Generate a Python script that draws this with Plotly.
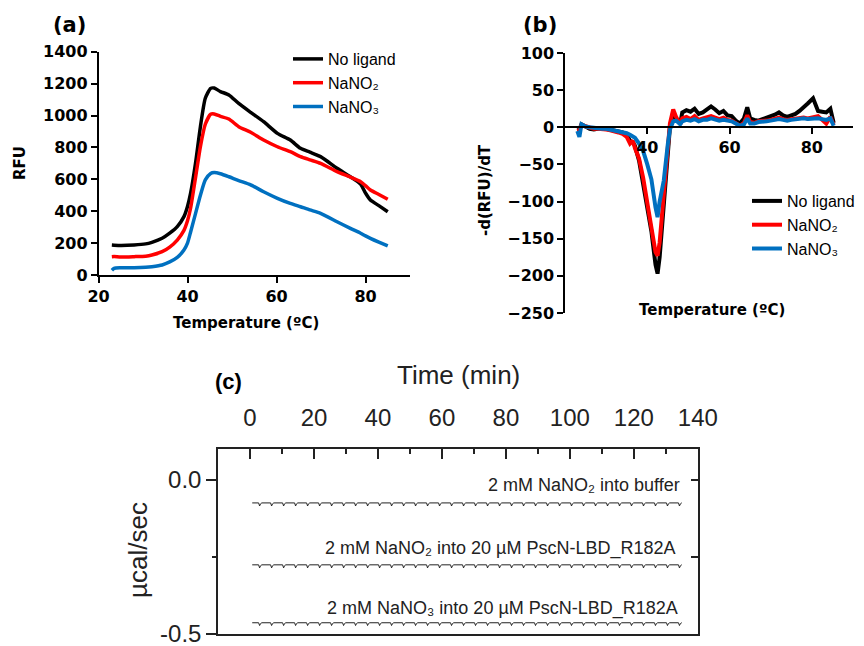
import plotly.graph_objects as go

# ---------------- Panel (a): melting curves ----------------
temp_a = [23, 23.5, 25, 28, 30.6, 32, 34.3, 36, 37.7, 39.2, 40, 40.7, 41.8, 42.9, 44, 45.2, 46,
          47.4, 49.3, 51.5, 54.2, 57.1, 60.2, 63.1, 65.4, 67.5, 69.9, 73.6, 76.6, 78.9, 80, 81.1, 83, 85]
rfu_none = [188, 187, 185, 188, 195, 205, 230, 262, 303, 366, 430, 513, 700, 930, 1108, 1170, 1172,
            1150, 1129, 1076, 1020, 961, 888, 846, 794, 770, 742, 669, 616, 570, 514, 470, 435, 397]
rfu_no2 = [115, 116, 113, 115, 118, 125, 146, 175, 219, 280, 340, 420, 610, 805, 945, 1008, 1010,
           995, 978, 930, 895, 846, 804, 773, 742, 722, 700, 648, 614, 585, 560, 533, 505, 475]
rfu_no3 = [30, 42, 45, 45, 48, 52, 63, 82, 110, 157, 200, 270, 385, 500, 596, 637, 642,
           635, 616, 592, 565, 522, 481, 449, 428, 408, 387, 334, 292, 262, 245, 230, 206, 182]

# ---------------- Panel (b): first derivative ----------------
temp_b = [23, 23.5, 24, 25, 26, 27, 28, 29, 30, 31, 32, 33, 34, 35, 35.8, 36.5, 37, 38, 39, 40, 41,
          42, 42.5, 43, 44, 45, 45.5, 46.3, 47, 48, 48.5, 49.5, 50.5, 51.5, 52.5, 53.5, 54.5, 55.5,
          56.5, 57.5, 58.5, 59.5, 60.5, 61.5, 62.5, 63.5, 64.3, 65, 66, 67, 68, 69, 70, 71, 72, 73,
          74, 75, 76, 77, 78, 79, 80.3, 81.5, 82.5, 83.5, 84.5, 85.3]
d_none = [-4, -3, 4, 1, -2, -3, -2, -1, -2, -3, -4, -5, -7, -10, -18, -20, -25, -45, -75, -105, -140,
          -185, -197, -175, -105, -30, 0, 20, 12, 5, 20, 23, 21, 25, 18, 20, 24, 28,
          24, 19, 22, 16, 15, 9, 5, 12, 27, 12, 10, 9, 11, 13, 14, 17, 20, 16,
          14, 16, 18, 22, 28, 32, 39, 22, 21, 20, 25, 6]
d_no2 = [-5, -4, 3, 1, -1, -2, -2, -2, -3, -4, -5, -7, -9, -13, -22, -18, -28, -42, -68, -98, -135,
         -168, -173, -155, -95, -25, 5, 24, 14, 4, 12, 14, 11, 15, 10, 12, 13, 15,
         13, 11, 13, 10, 9, 6, 2, 6, 16, 7, 6, 8, 8, 9, 10, 12, 13, 11,
         10, 11, 12, 12, 13, 12, 14, 15, 10, 5, 14, 3]
d_no3 = [-5, -13, 4, 1, 0, -1, -1, -2, -2, -3, -4, -5, -6, -8, -10, -12, -14, -22, -32, -50, -70,
         -108, -121, -100, -72, -22, -3, 8, 9, 4, 8, 10, 9, 11, 8, 10, 10, 12,
         11, 9, 10, 9, 8, 5, 2, 4, 12, 5, 5, 7, 7, 8, 9, 10, 11, 10,
         9, 10, 11, 11, 12, 11, 12, 12, 11, 10, 12, 2]

series_names = ["No ligand", "NaNO₂", "NaNO₃"]
series_colors = ["#000000", "#FF0000", "#0070C0"]

# ---------------- Panel (c): ITC raw traces ----------------
itc_labels = ["2 mM NaNO₂ into buffer",
              "2 mM NaNO₂ into 20 µM PscN-LBD_R182A",
              "2 mM NaNO₃ into 20 µM PscN-LBD_R182A"]
itc_baseline = [-0.075, -0.276, -0.464]
itc_spike_depth = [0.010, 0.010, 0.009]
itc_start_min, itc_end_min = 0.7, 135.0
injection_times = [3.0, 6.75, 10.5, 14.25, 18.0, 21.75, 25.5, 29.25, 33.0, 36.75, 40.5, 44.25,
                   48.0, 51.75, 55.5, 59.25, 63.0, 66.75, 70.5, 74.25, 78.0, 81.75, 85.5, 89.25,
                   93.0, 96.75, 100.5, 104.25, 108.0, 111.75, 115.5, 119.25, 123.0, 126.75, 130.5,
                   134.25]
time_ticks = [0, 20, 40, 60, 80, 100, 120, 140]

W, H = 864, 646
def px(x):
    return x / W
def py(y):
    return 1 - y / H

fig = go.Figure()

for name, col, vals in zip(series_names, series_colors, [rfu_none, rfu_no2, rfu_no3]):
    fig.add_trace(go.Scatter(x=temp_a, y=vals, mode="lines", name=name, xaxis="x", yaxis="y",
                             line=dict(color=col, width=3.5, shape="spline", smoothing=0.6),
                             legend="legend", legendgroup="a" + name))

for name, col, vals in zip(series_names, series_colors, [d_none, d_no2, d_no3]):
    fig.add_trace(go.Scatter(x=temp_b, y=vals, mode="lines", name=name, xaxis="x2", yaxis="y2",
                             line=dict(color=col, width=4),
                             legend="legend2", legendgroup="b" + name))

for base, depth in zip(itc_baseline, itc_spike_depth):
    xs, ys = [itc_start_min], [base]
    for t in injection_times:
        if t > itc_end_min:
            break
        xs += [t - 0.3, t, t + 0.3, t + 0.7]
        ys += [base, base - depth, base - depth * 0.3, base]
    xs.append(itc_end_min)
    ys.append(base)
    fig.add_trace(go.Scatter(x=xs, y=ys, mode="lines", xaxis="x3", yaxis="y3", showlegend=False,
                             line=dict(color="#222222", width=1)))
fig.add_trace(go.Scatter(x=[], y=[], xaxis="x3", yaxis="y4", showlegend=False, hoverinfo="skip"))

bold_font = dict(family="DejaVu Sans", size=16, color="black", weight="bold")
ax_common = dict(showline=True, linecolor="black", linewidth=1.5, ticks="outside", ticklen=6,
                 tickwidth=1.5, tickcolor="black", showgrid=False, zeroline=False,
                 tickfont=bold_font, automargin=False)

fig.update_layout(
    width=W, height=H, margin=dict(l=0, r=0, t=0, b=0, autoexpand=False),
    paper_bgcolor="white", plot_bgcolor="rgba(0,0,0,0)",
    xaxis=dict(domain=[px(98.5), px(410)], range=[20, 90], tickvals=[20, 40, 60, 80],
               anchor="y", **ax_common),
    yaxis=dict(domain=[py(275), py(51.7)], range=[0, 1400], dtick=200, anchor="x", **ax_common),
    xaxis2=dict(domain=[px(565), px(853)], range=[20, 90], tickvals=[40, 60, 80],
                anchor="free", position=py(127), **ax_common),
    yaxis2=dict(domain=[py(313), py(53)], range=[-250, 100], dtick=50, anchor="x2", **ax_common),
    xaxis3=dict(domain=[px(218), px(698)], range=[-10, 140.05], side="top", anchor="y3",
                tickvals=time_ticks, ticks="inside", ticklen=10, tickwidth=1.5, tickcolor="#222",
                minor=dict(dtick=10, tick0=0, ticks="inside", ticklen=5, tickwidth=1.5,
                           tickcolor="#222"),
                showline=True, mirror=True, linecolor="#222", linewidth=1.5,
                showgrid=False, zeroline=False, ticklabelstandoff=12, automargin=False,
                ticklabeloverflow="allow",
                tickfont=dict(family="Liberation Sans", size=24, color="#222")),
    yaxis3=dict(domain=[py(634), py(449)], range=[-0.5005, 0.1], anchor="x3",
                tickvals=[0, -0.5], ticktext=["0.0", "-0.5"], ticks="outside", ticklen=10,
                tickwidth=1.5, tickcolor="#222",
                minor=dict(tickvals=[-0.25], ticks="outside", ticklen=4, tickwidth=1.5,
                           tickcolor="#222"),
                showline=True, mirror=True, linecolor="#222", linewidth=1.5,
                showgrid=False, zeroline=False, automargin=False,
                ticklabeloverflow="allow",
                tickfont=dict(family="Liberation Sans", size=24, color="#222")),
    yaxis4=dict(overlaying="y3", side="right", anchor="x3", range=[-0.5005, 0.1],
                tickvals=[0, -0.25], ticks="inside", ticklen=7, tickwidth=1.5, tickcolor="#222",
                showticklabels=False, showline=False, showgrid=False, zeroline=False,
                automargin=False),
    legend=dict(x=px(288), y=py(42), xanchor="left", yanchor="top", tracegroupgap=0,
                font=dict(family="Liberation Sans", size=16, color="black"),
                bgcolor="rgba(0,0,0,0)", itemwidth=30),
    legend2=dict(x=px(747), y=py(184), xanchor="left", yanchor="top", tracegroupgap=0,
                 font=dict(family="Liberation Sans", size=16, color="black"),
                 bgcolor="rgba(0,0,0,0)", itemwidth=30),
)

ann = []
def add_ann(text, x, y, size, family="DejaVu Sans", bold=True, angle=0, xanchor="center",
            color="black"):
    ann.append(dict(text=text, x=px(x), y=py(y), xref="paper", yref="paper", showarrow=False,
                    xanchor=xanchor, yanchor="middle", textangle=angle,
                    font=dict(family=family, size=size, color=color,
                              weight="bold" if bold else "normal")))

add_ann("(a)", 69, 25, 21)
add_ann("(b)", 540, 25, 21)
add_ann("RFU", 20, 163, 15, angle=-90)
add_ann("Temperature (ºC)", 246, 323, 15)
add_ann("-d(RFU)/dT", 485, 190, 15, angle=-90)
add_ann("Temperature (ºC)", 712, 310, 15)
add_ann("(c)", 228, 381, 22, family="Liberation Sans")
add_ann("Time (min)", 458, 375, 26, family="Liberation Sans", bold=False, color="#222")
add_ann("µcal/sec", 138, 550, 26, family="Liberation Sans", bold=False, angle=-90, color="#222")
add_ann(itc_labels[0], 682, 485, 18, family="Liberation Sans", bold=False, xanchor="right",
        color="#222")
add_ann(itc_labels[1], 677, 548, 18, family="Liberation Sans", bold=False, xanchor="right",
        color="#222")
add_ann(itc_labels[2], 680, 608, 18, family="Liberation Sans", bold=False, xanchor="right",
        color="#222")
fig.update_layout(annotations=ann)

fig.write_html("out.html", config={"displayModeBar": False},
               post_script="document.body.style.margin='0';document.body.style.overflow='hidden';")
